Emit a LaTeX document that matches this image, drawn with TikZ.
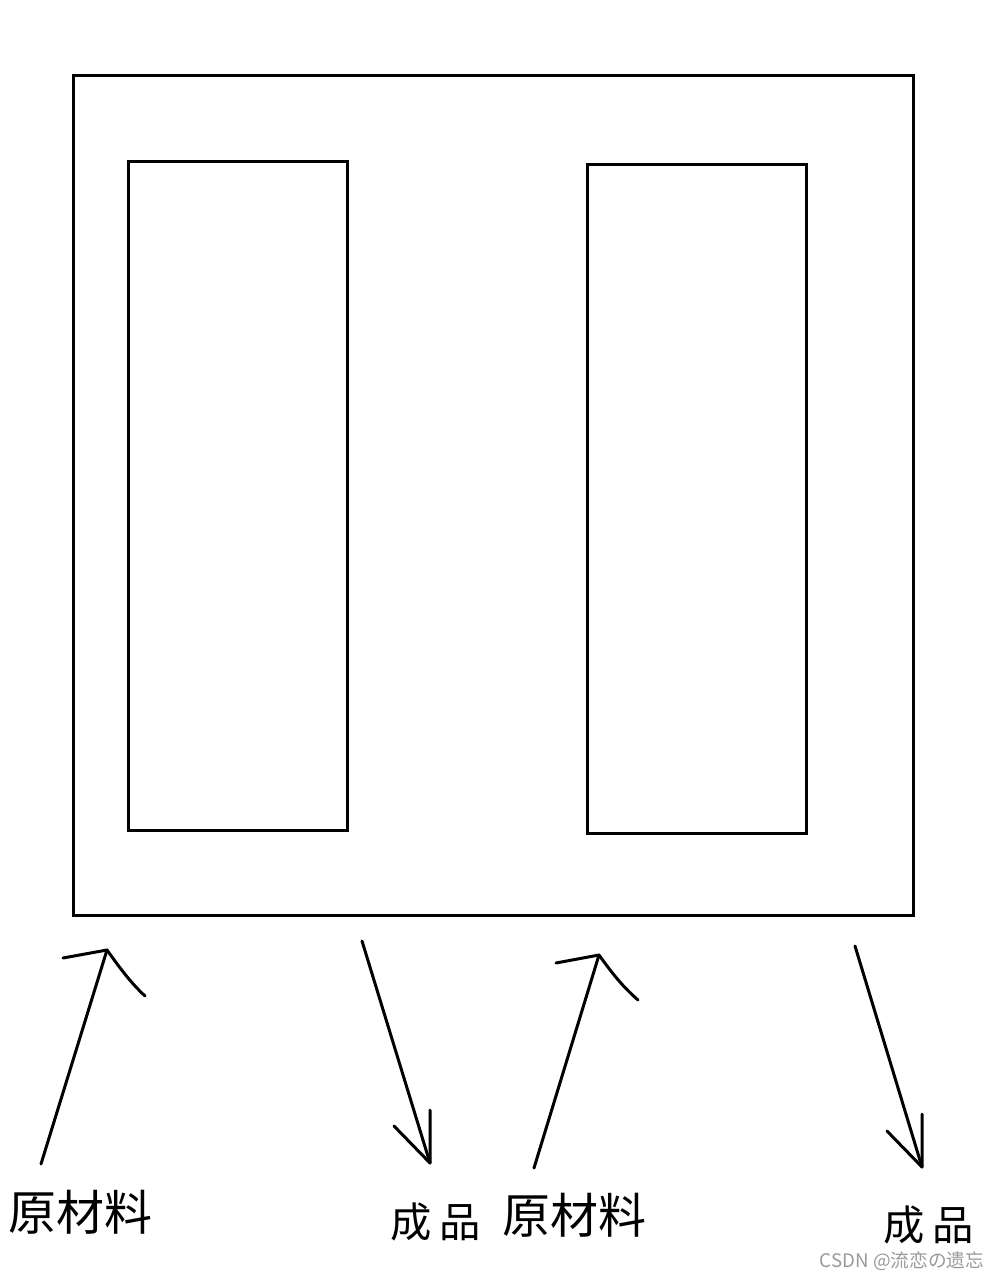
\documentclass[tikz,border=0pt]{standalone}
\usepackage{fontspec}
\newfontfamily\cjk{Noto Sans CJK SC}
\tikzset{every picture/.style={line width=2.25pt}}
\tikzset{
  box/.style={draw, line cap=rect},
  flow/.style={draw, line cap=round, line join=round},
  label/.style={inner sep=0pt, font=\cjk\fontsize{36}{36}\selectfont},
  prodlabel/.style={inner sep=0pt, font=\cjk\fontsize{31}{31}\selectfont},
}

\begin{document}
\begin{tikzpicture}[x=0.75pt,y=0.75pt,yscale=-1,xscale=1]
\useasboundingbox (0,0) rectangle (1000,1279); %set diagram to the size of the reference

%Shape: Rectangle [outer frame]
\draw [box] (73,75) rectangle (913,915) ;
%Shape: Rectangle [left bay]
\draw [box] (128,161) rectangle (347,830) ;
%Shape: Rectangle [right bay]
\draw [box] (587,164) rectangle (806,833) ;

%Coordinates of the arrows
\coordinate (inA) at (41,1164) ;
\coordinate (inAtip) at (107,950) ;
\coordinate (outA) at (362,941) ;
\coordinate (outAtip) at (430,1163) ;
\coordinate (inB) at (534,1168) ;
\coordinate (inBtip) at (599,955) ;
\coordinate (outB) at (855,946) ;
\coordinate (outBtip) at (922,1167) ;

%Straight Lines [raw material in, left]
\draw [flow] (inA) -- (inAtip) ;
\draw [flow] (63,958) -- (inAtip) .. controls (120,968) and (130,982) .. (145,996) ;
%Straight Lines [product out, left]
\draw [flow] (outA) -- (outAtip) ;
\draw [flow] (394,1126) -- (outAtip) -- (430,1110) ;
%Straight Lines [raw material in, right]
\draw [flow] (inB) -- (inBtip) ;
\draw [flow] (556,963) -- (inBtip) .. controls (612,973) and (622,986) .. (638,1000) ;
%Straight Lines [product out, right]
\draw [flow] (outB) -- (outBtip) ;
\draw [flow] (887,1131) -- (outBtip) -- (922,1114) ;

% Text Node
\node [label] (rawA) at (80,1212) {原材料};
% Text Node
\node [prodlabel] (prodA) at (436,1222) {成\hspace{6pt}品};
% Text Node
\node [label] (rawB) at (574,1215) {原材料};
% Text Node
\node [prodlabel] (prodB) at (929,1225) {成\hspace{6pt}品};
% Text Node
\node [inner sep=0pt, text=black!40, font=\cjk\fontsize{14}{14}\selectfont] (mark) at (902,1261) {CSDN @流恋の遗忘};

\end{tikzpicture}
\end{document}
